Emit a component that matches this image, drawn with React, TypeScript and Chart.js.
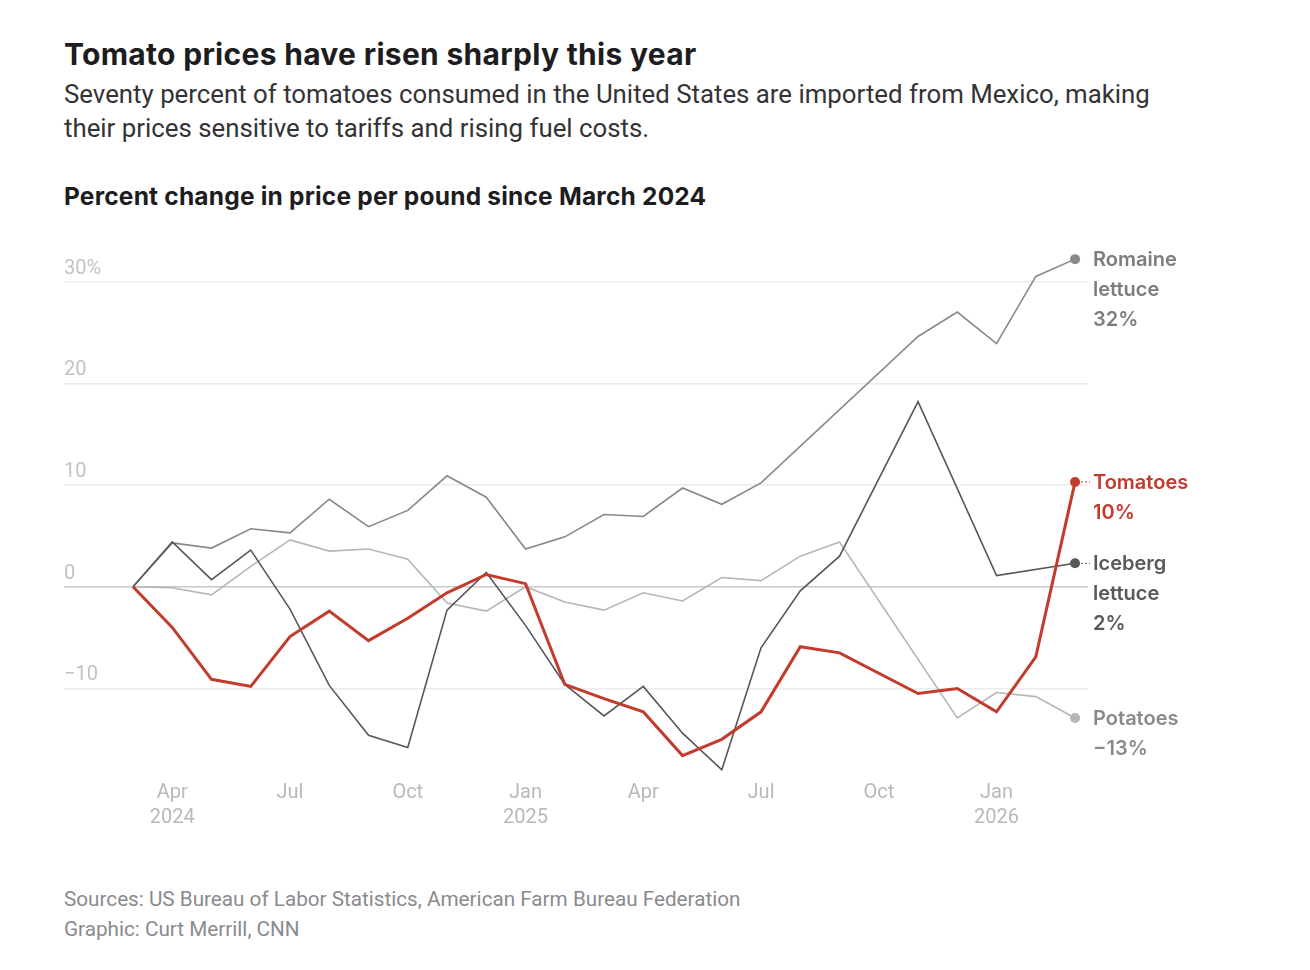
import React, { useEffect, useRef } from "react";
import { Chart, registerables } from "chart.js";

Chart.register(...registerables);

const FONT = "Roboto, 'Noto Sans', sans-serif";
const HFONT = "Inter, Roboto, sans-serif";

// Month index 0 = March 2024 ... 24 = March 2026
const months = [
  "Mar 2024", "Apr 2024", "May 2024", "Jun 2024", "Jul 2024", "Aug 2024", "Sep 2024",
  "Oct 2024", "Nov 2024", "Dec 2024", "Jan 2025", "Feb 2025", "Mar 2025", "Apr 2025",
  "May 2025", "Jun 2025", "Jul 2025", "Aug 2025", "Sep 2025", "Oct 2025", "Nov 2025",
  "Dec 2025", "Jan 2026", "Feb 2026", "Mar 2026",
];

const tomatoes = [
  0, -4.0, -9.1, -9.8, -4.9, -2.4, -5.3, -3.1, -0.6, 1.2, 0.3, -9.6, -11.0, -12.3,
  -16.6, -15.0, -12.3, -5.9, -6.5, null, -10.5, -10.0, -12.3, -6.9, 10.3,
];
const iceberg = [
  0, 4.4, 0.7, 3.6, -2.2, -9.7, -14.6, -15.8, -2.3, 1.4, -3.8, -9.6, -12.7, -9.8,
  -14.4, -18.0, -6.0, -0.4, 3.0, null, 18.2, null, 1.1, null, 2.3,
];
const romaine = [
  0, 4.3, 3.8, 5.7, 5.3, 8.6, 5.9, 7.5, 10.9, 8.8, 3.7, 4.9, 7.1, 6.9,
  9.7, 8.1, 10.2, null, null, null, 24.6, 27.0, 23.9, 30.5, 32.2,
];
const potatoes = [
  0, -0.1, -0.8, 2.0, 4.6, 3.5, 3.7, 2.7, -1.6, -2.4, 0.0, -1.5, -2.3, -0.6,
  -1.4, 0.9, 0.6, 3.0, 4.4, null, null, -12.9, -10.4, -10.8, -12.9,
];

const seriesNames = ["Tomatoes", "Iceberg lettuce", "Romaine lettuce", "Potatoes"];
const seriesValues = [tomatoes, iceberg, romaine, potatoes];
const seriesColors = ["#c33b2c", "#57565b", "#88878c", "#b6b6b9"];
const seriesWidths = [3, 1.6, 1.6, 1.6];
const labelColors = ["#c33b2c", "#59585d", "#7d7c81", "#8a898e"];
const endLabels = [
  ["Tomatoes", "10%"],
  ["Iceberg", "lettuce", "2%"],
  ["Romaine", "lettuce", "32%"],
  ["Potatoes", "\u221213%"],
];
const endConnector = [true, true, false, false];

const yTicks = [-10, 0, 10, 20, 30];
const xTickIndex = [1, 4, 7, 10, 13, 16, 19, 22];
const xTickLabels = [
  ["Apr", "2024"], ["Jul"], ["Oct"], ["Jan", "2025"],
  ["Apr"], ["Jul"], ["Oct"], ["Jan", "2026"],
];

function fmtY(v: number) {
  if (v === 30) return "30%";
  if (v < 0) return "\u2212" + Math.abs(v);
  return String(v);
}

const endLabelPlugin = {
  id: "endLabels",
  afterDatasetsDraw(chart: any) {
    const ctx = chart.ctx;
    chart.data.datasets.forEach((_ds: any, di: number) => {
      const meta = chart.getDatasetMeta(di);
      const pt = meta.data[meta.data.length - 1];
      if (!pt) return;
      ctx.save();
      ctx.font = `600 20px ${HFONT}`;
      ctx.fillStyle = labelColors[di];
      ctx.textBaseline = "middle";
      ctx.textAlign = "left";
      endLabels[di].forEach((t, li) => ctx.fillText(t, pt.x + 18, pt.y + 1 + li * 30));
      if (endConnector[di]) {
        ctx.strokeStyle = seriesColors[di];
        ctx.lineWidth = 1;
        ctx.setLineDash([2, 2]);
        ctx.beginPath();
        ctx.moveTo(pt.x + 6, pt.y);
        ctx.lineTo(pt.x + 15, pt.y);
        ctx.stroke();
      }
      ctx.restore();
    });
  },
};

function LineChart() {
  const ref = useRef<HTMLCanvasElement | null>(null);
  useEffect(() => {
    if (!ref.current) return;
    const last = months.length - 1;
    const chart = new Chart(ref.current, {
      type: "line",
      data: {
        datasets: seriesValues.map((vals, i) => ({
          label: seriesNames[i],
          data: vals.map((v, j) => ({ x: j, y: v })),
          borderColor: seriesColors[i],
          backgroundColor: seriesColors[i],
          borderWidth: seriesWidths[i],
          pointRadius: (c: any) => (c.dataIndex === last ? 5 : 0),
          pointHoverRadius: 0,
          pointBorderWidth: 0,
          pointBackgroundColor: seriesColors[i],
          spanGaps: true,
          tension: 0,
          borderJoinStyle: "miter" as const,
        })),
      },
      options: {
        responsive: false,
        animation: false,
        events: [],
        layout: { padding: { left: 64, right: 222, top: 21, bottom: 30 } },
        plugins: {
          legend: { display: false },
          tooltip: { enabled: false },
          title: { display: false },
        },
        scales: {
          x: {
            type: "linear",
            min: -1.758,
            max: 24.33,
            afterBuildTicks: (scale: any) => {
              scale.ticks = xTickIndex.map((v) => ({ value: v }));
            },
            ticks: {
              callback: (value: any) => {
                const k = xTickIndex.indexOf(Number(value));
                return k >= 0 ? xTickLabels[k] : "";
              },
              color: "#b9b9bd",
              font: { family: FONT, size: 20, lineHeight: 1.25 },
              padding: 0,
              maxRotation: 0,
              autoSkip: false,
            },
            grid: { display: false, drawTicks: false },
            border: { display: false },
          },
          y: {
            type: "linear",
            min: -19,
            max: 33,
            afterBuildTicks: (scale: any) => {
              scale.ticks = yTicks.map((v) => ({ value: v }));
            },
            ticks: {
              mirror: true,
              padding: 0,
              labelOffset: -13,
              callback: (value: any) => fmtY(Number(value)),
              color: "#c2c2c6",
              font: { family: FONT, size: 20 },
            },
            grid: {
              drawTicks: false,
              color: (c: any) => (c.tick && c.tick.value === 0 ? "#c9c9cc" : "#ececee"),
              lineWidth: (c: any) => (c.tick && c.tick.value === 0 ? 1.6 : 1.4),
            },
            border: { display: false },
          },
        },
      },
      plugins: [endLabelPlugin],
    } as any);
    return () => chart.destroy();
  }, []);
  return <canvas ref={ref} width={1310} height={630} style={{ display: "block" }} />;
}

export default function App() {
  return (
    <div
      style={{
        position: "absolute",
        left: 0,
        top: 0,
        width: 1310,
        height: 970,
        background: "#ffffff",
        fontFamily: FONT,
      }}
    >
      <div
        style={{
          position: "absolute",
          left: 64,
          top: 37,
          fontFamily: HFONT,
          fontSize: 30,
          letterSpacing: "0.3px",
          lineHeight: "34px",
          fontWeight: 700,
          color: "#1d1d1f",
          whiteSpace: "nowrap",
        }}
      >
        Tomato prices have risen sharply this year
      </div>
      <div
        style={{
          position: "absolute",
          left: 64,
          top: 77,
          width: 1160,
          fontSize: 25.8,
          lineHeight: "34px",
          color: "#333336",
          whiteSpace: "nowrap",
        }}
      >
        Seventy percent of tomatoes consumed in the United States are imported from Mexico, making
        <br />
        their prices sensitive to tariffs and rising fuel costs.
      </div>
      <div
        style={{
          position: "absolute",
          left: 64,
          top: 181,
          fontFamily: HFONT,
          fontSize: 24.5,
          letterSpacing: "0.2px",
          lineHeight: "30px",
          fontWeight: 700,
          color: "#1d1d1f",
          whiteSpace: "nowrap",
        }}
      >
        Percent change in price per pound since March 2024
      </div>
      <div style={{ position: "absolute", left: 0, top: 230 }}>
        <LineChart />
      </div>
      <div
        style={{
          position: "absolute",
          left: 64,
          top: 884,
          fontSize: 20.7,
          lineHeight: "30px",
          color: "#8a8a8e",
          whiteSpace: "nowrap",
        }}
      >
        Sources: US Bureau of Labor Statistics, American Farm Bureau Federation
        <br />
        Graphic: Curt Merrill, CNN
      </div>
    </div>
  );
}
